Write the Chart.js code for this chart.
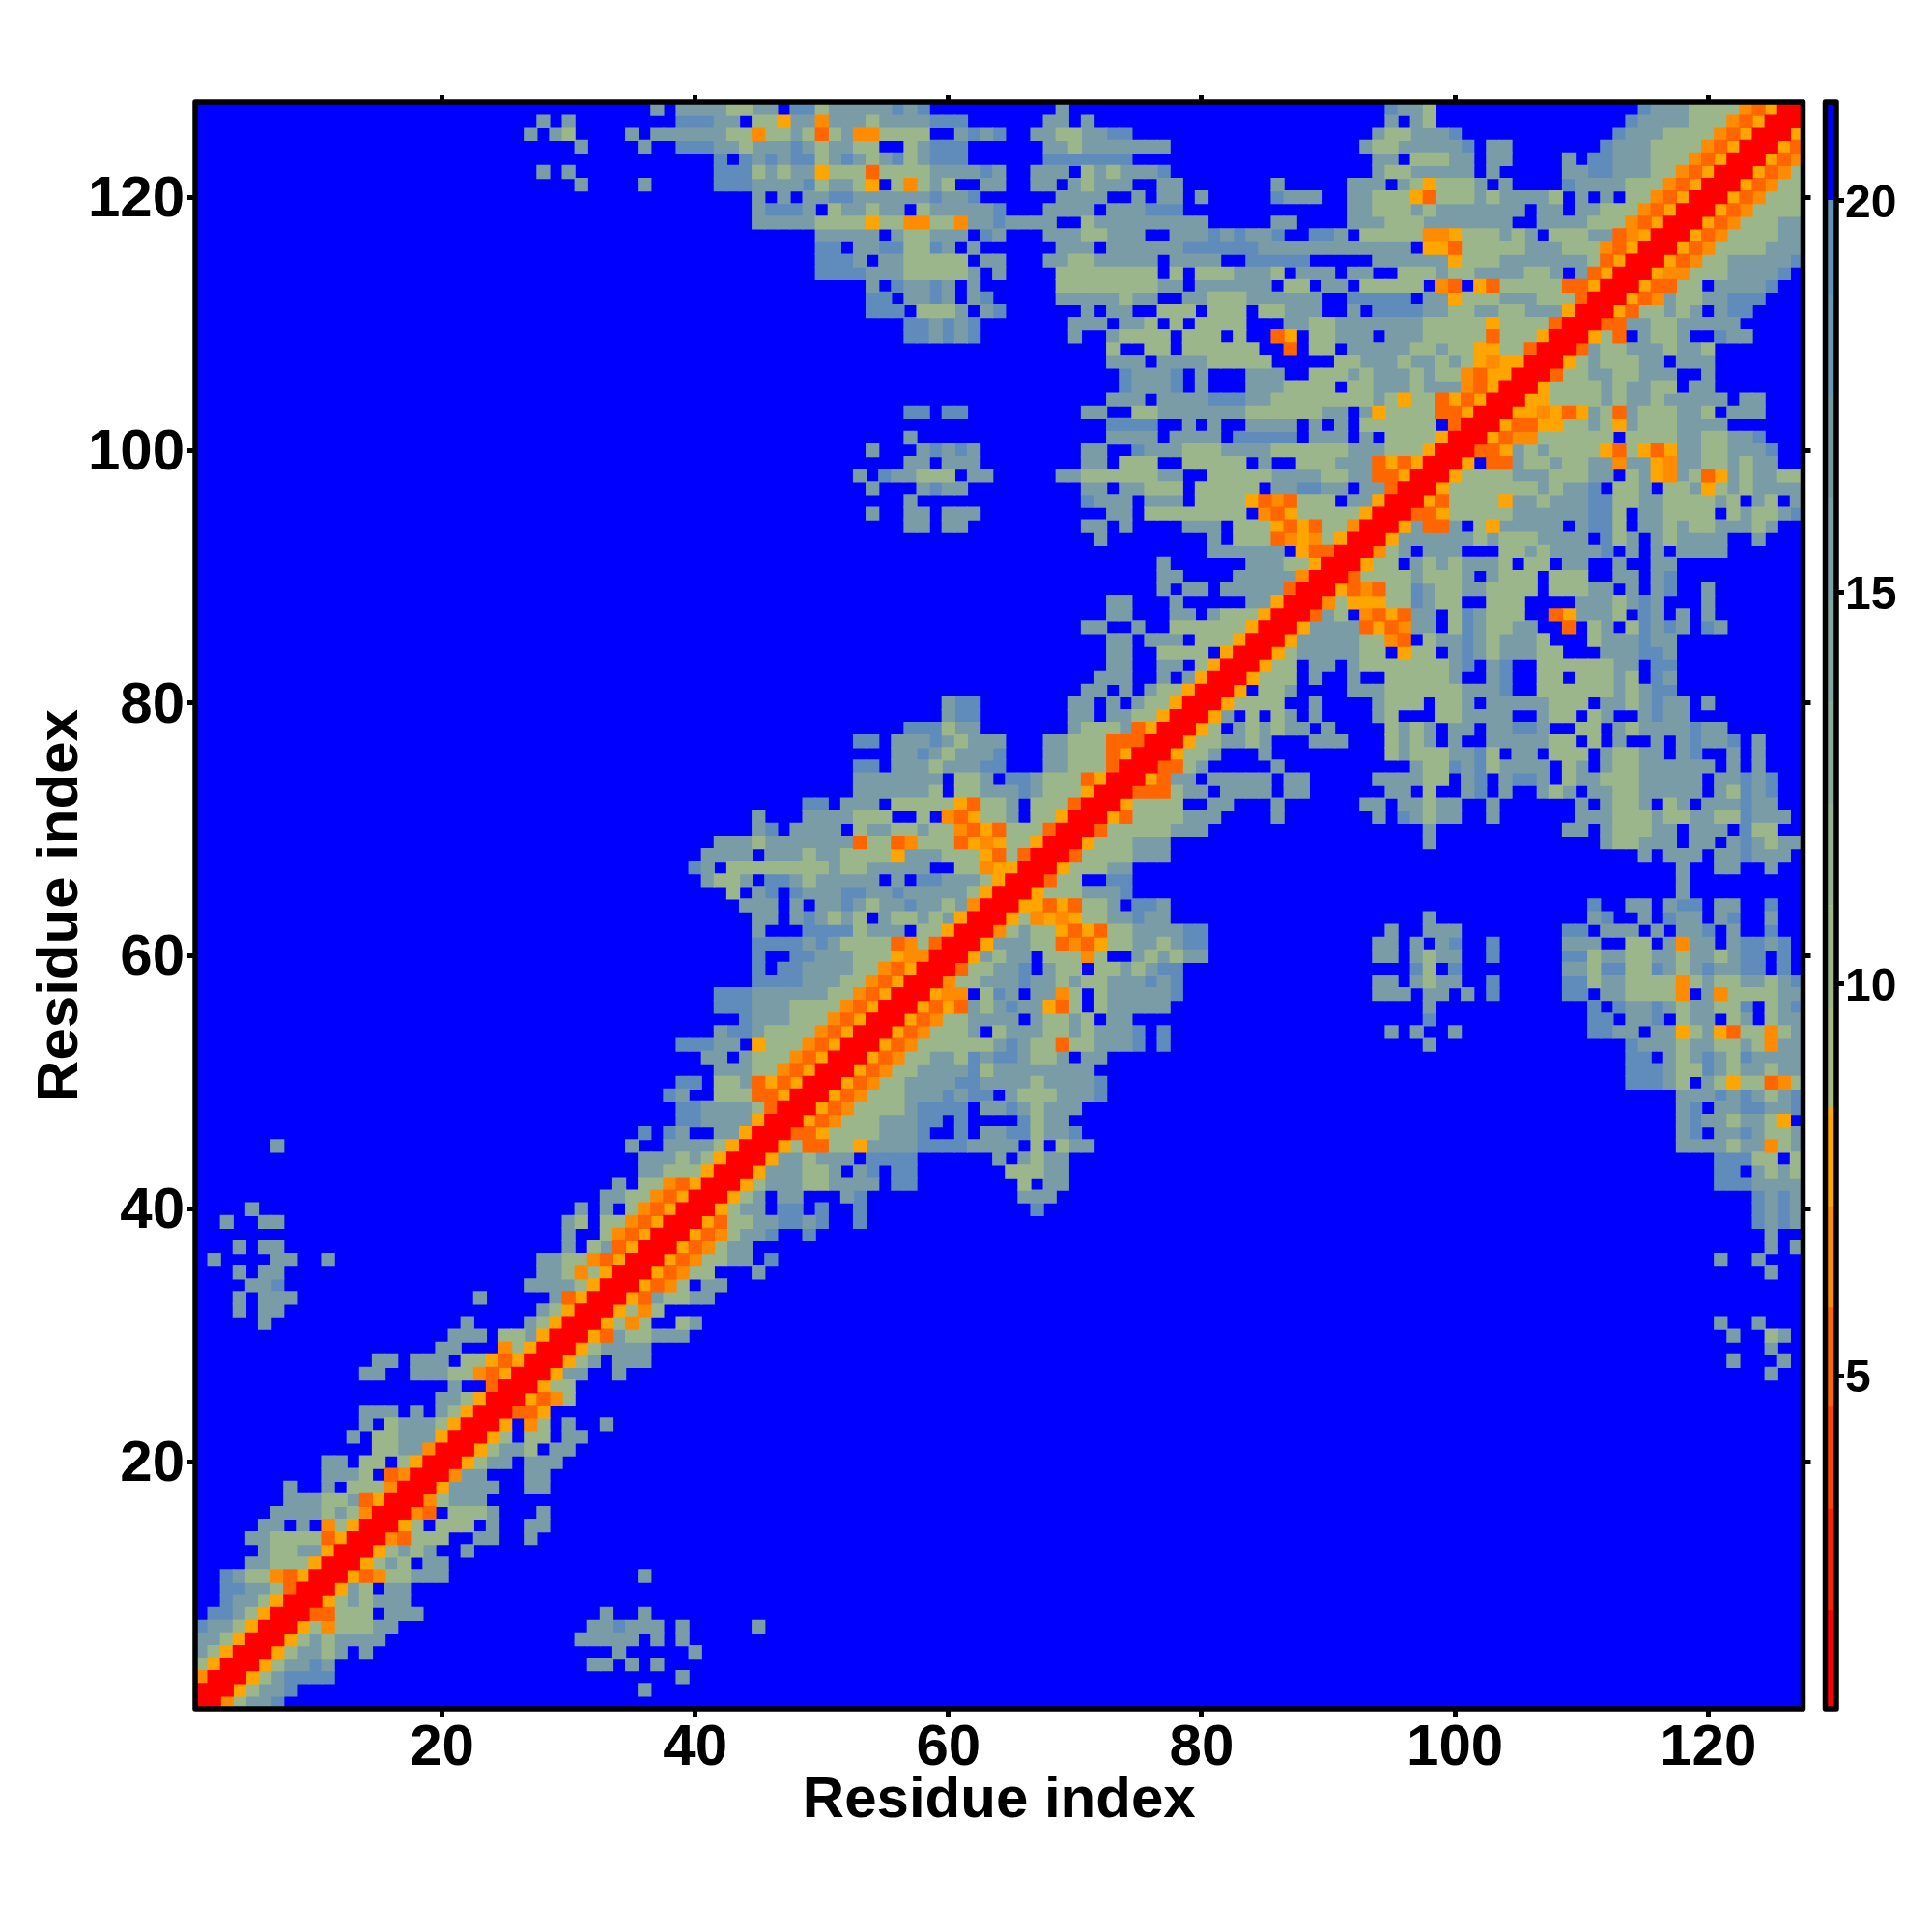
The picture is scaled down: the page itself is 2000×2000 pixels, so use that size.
<!DOCTYPE html>
<html><head><meta charset="utf-8">
<script src="https://cdn.jsdelivr.net/npm/chart.js@4"></script>
<style>html,body{margin:0;padding:0;background:#fff}canvas{position:absolute;left:0;top:0}</style>
</head><body>
<canvas id="map" width="2000" height="2000"></canvas>
<canvas id="bar" width="2000" height="2000"></canvas>
<script>
const axisTicks = [20,40,60,80,100,120];
const colorbarTicks = [5,10,15,20];
const axisTitle = "Residue index";
const residueCount = 127;
const levelLetters = [".","b","s","g","y","O","d","R"];
const levelValues  = [21,18,14,10,7.8,6.5,5.2,1.4];
const levelColors  = ["#0000ff","#5f8cbb","#7a9ca6","#9cb68c","#ffa500","#ff8c00","#ff6600","#ff0000"];
const barEdges  = [0.75,2,3.3,4.6,5.87,7.16,8.43,9.7,11,12.3,13.6,14.9,16.2,17.5,18.8,20,21.25];
const barColors = ["#ff0000","#ff2200","#ff4500","#ff6600","#ff8c00","#ffa500","#a4bc84","#9db78b","#95b192","#8cab99","#85a6a0","#7da0a6","#75999f","#6d95af","#6590b5","#0000ff"];
// one triangle of the symmetric map, row: "y x:cells x:cells"
const mapRows = [
"127 37:s 39:ssssggss.bbgsssssbsb 69:s 95:bssg 115:bsssgggg 123:OdyRR",
"126 28:s 30:s 39:bbbss.ggyssOsssg 55:ssss 59:bbb 68:ss 71:s 95:s.sg 114:bssssggg 122:OdyRR",
"125 27:s 29:sg 35:s 37:ss 39:ssssggO 46:ggsg 50:d 51:gs 53:OO 55:gggg 61:s 62:bsb 67:ssggssbb 94:sggsssb 113:bsssgggg 121:OdyRR",
"124 31:s 36:s 39:bbb 42:ssgsssbsgssgg..gsbbb 68:ssgsssssss 93:sggsssssb 103:ss 112:bsssgggg 120:OdyRR",
"123 42:b.bsbsbbgsbsgsbgsbbb 68:bbbbbbb 94:ss.gggss 103:ss 109:s. 111:bbsssggg 119:OdyRR",
"122 28:s 30:s 42:bbb 45:gsgss 50:y 51:ggg 54:d 55:gggg 59:ssssbs 67:sss 70:. 71:gsgsssb 94:sggsssss 103:s 109:ss 111:bbsssgg 118:OdyRR",
"121 31:s 36:s 42:bbb 45:ssssb 50:g 51:ss 53:g 54:y 55:. 56:g 57:O 58:g 59:sg 61:.. 63:ss 67:ss.sgs 73:ss 75:.. 77:ss 86:s 92:sss 95:. 96:s 97:g 98:y 99:gggs 103:. 104:s 109:bssssgg 116:gOdyRR",
"120 45:s.s.ss 51:bb 53:ssss 57:ss 59:b 60:ss 62:b 69:ssss 73:.. 75:s 76:. 77:ss 79:. 80:s 86:bsss 92:ssggg 97:y 98:d 99:gggsgssssg 109:. 110:s 111:. 112:s 113:. 114:gg 116:OdyRR",
"119 45:sbbbs 50:. 51:gss 54:g 55:ss 57:. 58:g 59:sssssb 68:ssss 72:. 73:sssbbb 92:ssgggsgsssssss 106:. 107:ss 109:. 110:ssggg 115:OdyRR",
"118 45:sssss 50:gggg 54:y 55:gg 57:OO 59:gg 61:O 62:ssbss 67:ss 69:.. 71:g 72:sssssssss 86:ss 92:sssgggsssssss 106:. 107:ss 109:ssggg 114:OdyRR",
"117 50:ssss 54:s 55:. 56:s 57:gg 59:sss 62:. 63:bs 68:sssggsss 76:.. 78:sssbsbssb 87:.. 89:bbs 92:. 93:ggggg 98:OO 100:y 101:gggsgs 107:. 108:gggss 113:dOyRR",
"116 50:bb. 53:ss 55:bb 57:gg 59:b 60:s 61:. 62:s 69:sss 72:. 73:ssssss 79:bbbbbbssssssssssss 97:. 98:yy 100:d 101:gggggsssggg 112:OdyRR",
"115 50:bbb 53:s 54:. 55:ss 57:ggg 60:gg 62:. 63:ss 68:ssggsssss 77:. 78:ssss 82:.. 84:bbbbb 89:..... 94:ssssss 100:y 101:gggsssssssg 112:dyRR",
"114 50:bbbb 54:s 55:ss 57:ggg 60:gg 62:s 63:. 64:s 69:gggggggg 77:. 78:g 79:. 80:gggsssg 87:. 88:sss 91:. 92:ss 94:.. 96:gggsggssssggs 109:. 110:s 111:dyRR",
"113 54:s 55:. 56:b 57:ss 59:b 60:s 61:. 62:s 69:ggggggggss 79:. 80:ssssss 86:. 87:gg 89:. 90:ss 92:. 93:ggggg 98:. 99:O 100:d 101:. 102:y 103:d 104:gggggg 109:dd 111:yRR",
"112 54:bb 56:. 57:ss 59:b 60:s 61:. 62:s 63:b 69:sssssgss 77:.. 79:ssgggssssss 90:.. 92:bbbbb 97:. 98:ss 100:y 101:gggsssggg 110:dRR",
"111 54:bbb 57:. 58:ggg 61:s 62:. 63:sb 70:. 71:s 72:. 73:ss 75:.. 77:ggg 80:. 81:ggg 84:. 85:gg 87:sss 90:.. 92:s 93:. 94:bbbbssggssggsss 109:yRR",
"110 57:bbsbsb 70:sss 73:. 74:ssg 77:. 78:g 79:. 80:gggg 84:... 87:ssggsss 94:ssssggggg 103:y 104:gggg 108:dRR",
"109 57:bbsbsb 70:s 73:sgggg 78:. 79:ggg 82:. 83:g 84:.. 86:dy 88:. 89:ggsss 94:. 95:sssggggg 103:d 104:ggg 107:yRR",
"108 73:g 74:.. 76:gg 78:. 79:gggggg 85:.. 87:d 88:. 89:gg 91:. 92:sssssggsgg 102:yy 104:gg 106:dRR",
"107 73:sss 76:. 77:ssssggggg 86:..... 91:ggsssgssgsg 102:yOyy 106:RR",
"106 74:bsssb 79:. 80:s 81:... 84:sss 87:.. 89:gggsgsssgsgg 101:O 102:d 103:yy 105:RR",
"105 74:bsssb 79:. 80:s 81:... 84:sssgggg 91:. 92:ggsssgsss 101:O 102:d 103:y 104:RR",
"104 73:sss 76:. 77:ssssbbbssggggggggsg 96:y 97:gg 99:d 100:y 101:d 102:y 103:RR",
"103 57:bb 60:bb 71:ss 73:.. 75:ggsssssssggggggss 92:. 93:s 94:y 95:gggg 99:dd 101:y 102:RR",
"102 73:bbbb 77:.. 79:s 80:. 81:s 82:.. 84:ssss 88:. 89:s 90:. 91:s 92:. 93:gggggg 100:d 101:RR",
"101 57:s 73:ssss 77:. 78:ssss 82:. 83:bbbbb 88:. 89:sss 92:. 93:s 94:. 95:gggg 99:y 100:RR",
"100 54:s 58:sb 60:sbs 71:ss 73:.. 75:bsssgggssssggggggsssggg 98:yRR",
"99 57:ss 59:. 60:sss 71:ss 73:. 74:ggg 77:.. 79:ggggg 84:. 85:s 86:.. 88:gggsss 94:dydy 98:RR",
"98 53:s 55:bs 57:sgg 60:g 61:. 62:ss 69:ssggggggss 79:.. 81:gggggssssggss 94:dd 96:y 97:RR",
"97 54:s 58:sbss 71:ss 73:. 74:ssggg 79:. 80:ggggg 85:. 86:ssbbss 92:. 93:ss 95:d 96:RR",
"96 57:s 71:bsss 75:. 76:sss 79:. 80:gggg 84:y 85:d 86:O 87:d 88:ggg 91:. 92:ss 94:y 95:RR",
"95 54:s 57:ss 60:sss 73:ss 75:. 76:gggggggg 84:. 85:O 86:d 87:y 88:ggggg 93:y 94:RR",
"94 57:ss 60:ss 71:ss 73:. 74:s 79:sss 82:. 83:ggg 86:y 87:d 88:y 89:d 90:gg 92:O 93:RR",
"93 72:s 81:s 82:. 83:ggg 86:d 87:O 88:y 89:O 90:g 91:y 92:RR",
"92 81:ssssss 87:. 88:y 89:dd 91:RR",
"91 77:s 84:sss 87:gg 89:y 90:RR",
"90 77:ss 83:ssss 87:s 88:O 89:RR",
"89 77:s.ss 82:sssss 87:d 88:RR",
"88 73:ss 78:s 84:ss 86:y 87:RR",
"87 73:ss 78:ss 81:sggg 85:y 86:RR",
"86 71:ss 75:s 78:gggggg 84:y 85:RR",
"85 73:ss 76:sss 80:ggg 83:y 84:RR",
"84 73:ss 77:gggg 82:y 83:RR",
"83 73:ss 77:ss 80:g 81:y 82:RR",
"82 72:sss 77:s 79:s 80:y 81:RR",
"81 71:ss 74:s 76:sgg 79:y 80:RR",
"80 60:sbb 70:ss 73:s 75:sgg 78:y 79:RR",
"79 60:sbb 70:ss 73:ss 75:gg 77:y 78:RR",
"78 57:bbbgss 70:sgggs 75:d 76:y 77:RR",
"77 53:bb 56:sssbsgsss 68:ssggg 73:ddd 76:RR",
"76 56:ssbsgsssb 68:ssggg 73:d 74:y 75:RR",
"75 53:bb 56:sssgsss 63:bb 68:ssggg 73:d 74:RR",
"74 53:sssssss 61:gg 63:s 65:bb 67:sggg 71:d 72:y 73:RR",
"73 53:ssssss 59:g 61:gg 63:sss 66:b 67:sggg 71:y 72:RR",
"72 49:bb 52:sss 56:ggggg 61:y 62:d 63:gg 65:s 67:ggg 70:d 71:RR",
"71 45:s 49:ssssggg 58:g 60:Ody 63:ggs 67:gg 69:y 70:RR",
"70 45:sb 48:ssss 53:g 54:ss 56:gg 58:s 59:gg 61:O 62:d 63:y 64:d 65:ggg 68:d 69:RR",
"69 42:sss 45:g 46:sssssss 53:d 54:gg 56:d 57:O 58:ggg 61:d 62:y 63:O 64:y 65:gg 67:y 68:RR",
"68 41:ssss 46:sssgssg 53:gg 55:g 56:y 57:sssggg 63:y 64:d 65:g 66:d 67:RR",
"67 40:b 41:s 43:ggggggggsggsssss 61:gg 63:Oyy 66:RR",
"66 41:s 42:gg 44:s 46:bbs 49:g 50:sssss 56:s 58:bbsssg 64:y 65:RR",
"65 43:g 45:s 46:b 48:bsssbbssbsssssg 63:y 64:RR",
"64 44:s 45:ss 48:s 50:ssbsgssbssgs 62:O 63:RR",
"63 45:ss 48:sbsgsg 55:s 56:gg 58:sgs 61:y 62:RR",
"62 45:s 49:bbbb 53:gsss 58:gg 60:y 61:RR",
"61 45:bbbbsbsgggg 56:dO 58:g 59:d 60:RR",
"60 45:b 48:bbsssggg 56:yOO 59:RR",
"59 45:b 47:bbssssgg 55:Ody 58:RR",
"58 45:bbbbsssgg 54:Ody 57:RR",
"57 42:bbb 45:ssssssgg 53:Ody 56:RR",
"56 42:bbb 45:sssgggg 52:Ody 55:RR",
"55 44:b 45:sssggg 51:Ody 54:RR",
"54 42:sbb 45:sgggg 50:Ody 53:RR",
"53 39:bbb 42:ss 45:y 46:ggg 49:Ody 52:RR",
"52 41:ss 44:s 45:ggg 48:Ody 51:RR",
"51 42:sss 45:gg 47:Ody 50:RR",
"50 39:bb 42:ggs 45:dydy 49:RR",
"49 38:bs 42:ggg 45:ddy 48:RR",
"48 39:bbssssg 46:d 47:RR",
"47 39:bbssss 45:y 46:RR",
"46 36:b 38:bs 42:ss 44:y 45:RR",
"45 7:s 35:s 38:ssssg 43:y 44:RR",
"44 36:sssgsg 42:y 43:RR",
"43 36:ssggg 41:y 42:RR",
"42 34:s 36:gg 38:Ody 41:RR",
"41 33:ss 35:gg 37:Ody 40:RR",
"40 5:s 31:s 33:s 35:g 36:Ody 39:RR",
"39 3:s 6:ss 30:sg 33:gg 35:Ody 38:RR",
"38 30:s 33:g 34:Ody 37:RR",
"37 4:s 6:ss 30:s 32:gs 34:dy 36:RR",
"36 2:s 7:ss 11:s 28:ssgg 32:Ody 35:RR",
"35 4:s 6:ss 28:ssg 31:Ogy 34:RR",
"34 5:ssb 27:ssssg 32:y 33:RR",
"33 4:s 6:sss 23:s 29:s 30:dy 32:RR",
"32 4:s 6:ss 28:sg 30:y 31:RR",
"31 6:s 22:s 27:sg 29:y 30:RR",
"30 21:sss 25:ggs 28:y 29:RR",
"29 20:ss 25:Og 27:y 28:RR",
"28 15:ss 18:sss 22:gg 24:ydy 27:RR",
"27 14:ss 18:sss 21:gg 23:Ody 26:RR",
"26 21:s 24:d 25:RR",
"25 20:ssg 23:y 24:RR",
"24 14:sss 18:s 20:sg 22:y 23:RR",
"23 14:s 16:gsss 20:g 21:y 22:RR",
"22 13:s 15:ggsss 20:y 21:RR",
"21 15:ggss 19:O 20:RR",
"20 11:ss 14:gg 17:g 18:y 19:RR",
"19 11:sss 14:g 16:dO 18:RR",
"18 8:s 11:s 13:ggg 16:O 17:RR",
"17 8:sss 11:gg 13:s 14:dy 16:RR",
"16 7:ssss 11:gs 13:g 14:O 15:RR",
"15 6:ss 9:s 11:Ogy 14:RR",
"14 5:ssgggg 11:dy 13:RR",
"13 6:sggss 11:y 12:RR",
"12 5:ssggg 10:y 11:RR",
"11 3:bsgg 7:Ody 10:RR",
"10 3:bbssg 8:d 9:RR",
"9 3:bssg 7:y 8:RR",
"8 2:bbsg 6:y 7:RR",
"7 1:bssg 5:y 6:RR",
"6 1:ssg 4:y 5:RR",
"5 1:sg 3:y 4:RR",
"4 1:g 2:y 3:RR",
"3 1:O 2:RR",
"2 1:RR",
"1 1:R"
];

const FONT = "'Liberation Sans', Arial, sans-serif";
const grid = {};
mapRows.forEach(line => {
  const parts = line.split(" ");
  const y = +parts[0];
  parts.slice(1).forEach(p => {
    const [start, cells] = p.split(":");
    [...cells].forEach((c, i) => {
      const x = +start + i;
      if (x <= y) { grid[x + "," + y] = c; grid[y + "," + x] = c; }
    });
  });
});
const pointsByLevel = levelLetters.map(() => []);
for (let y = 1; y <= residueCount; y++) for (let x = 1; x <= residueCount; x++) {
  const letter = grid[x + "," + y] || ".";
  const idx = levelLetters.indexOf(letter);
  pointsByLevel[idx].push({x, y, v: levelValues[idx]});
}
const frame = {
  id: "frame",
  beforeDatasetsDraw(chart, args, opts) {
    if (!opts.fill) return;
    const a = chart.chartArea, c = chart.ctx;
    c.save(); c.fillStyle = opts.fill;
    c.fillRect(a.left, a.top, a.right - a.left, a.bottom - a.top);
    c.restore();
  },
  afterDraw(chart) {
    const a = chart.chartArea, c = chart.ctx;
    c.save(); c.strokeStyle = "#000"; c.lineWidth = 5.5; c.lineJoin = "round";
    c.strokeRect(a.left, a.top, a.right - a.left, a.bottom - a.top);
    c.restore();
  }
};
const setTicks = list => scale => { scale.ticks = list.map(value => ({value})); };
const axisBase = list => ({
  type: "linear", min: 0.5, max: residueCount + 0.5,
  afterBuildTicks: setTicks(list),
  border: {display: false},
  grid: {drawOnChartArea: false, drawTicks: true, tickLength: 8, tickWidth: 5, tickColor: "#000", color: "#000"},
});
const labelFont = {family: FONT, size: 60, weight: "bold"};
const titleCfg = (padding) => ({display: true, text: axisTitle, color: "#000", font: {family: FONT, size: 60, weight: "bold"}, padding});

new Chart(document.getElementById("map"), {
  type: "scatter",
  data: {datasets: levelLetters.map((l, i) => ({
    label: l, data: pointsByLevel[i], backgroundColor: levelColors[i], borderWidth: 0,
    pointStyle: "rect", pointRadius: 14.3 / Math.SQRT2, pointHoverRadius: 0, order: levelLetters.length - i
  }))},
  options: {
    responsive: false, animation: false, events: [],
    layout: {padding: {top: 97, right: 124.5, bottom: 0, left: 0}},
    plugins: {legend: {display: false}, tooltip: {enabled: false}, frame: {fill: "#0000ff"}},
    scales: {
      x: {...axisBase(axisTicks), position: "bottom", afterFit: s => { s.height = 231; },
          ticks: {display: true, font: labelFont, color: "#000", padding: -3, maxRotation: 0, autoSkip: false},
          title: titleCfg({top: 0, bottom: 100})},
      y: {...axisBase(axisTicks), position: "left", afterFit: s => { s.width = 202; },
          ticks: {display: true, font: labelFont, color: "#000", padding: 3, labelOffset: 3, autoSkip: false},
          title: titleCfg({top: 27, bottom: 0})},
      xTop: {...axisBase(axisTicks), position: "top", axis: "x", afterFit: s => { s.height = 9; }, ticks: {display: false}},
      yRight: {...axisBase(axisTicks), position: "right", axis: "y", afterFit: s => { s.width = 9; }, ticks: {display: false}}
    }
  },
  plugins: [frame]
});

new Chart(document.getElementById("bar"), {
  type: "bar",
  data: {labels: [""], datasets: barColors.map((color, i) => ({
    data: [[barEdges[i], barEdges[i + 1]]], backgroundColor: color, borderWidth: 0,
    barPercentage: 1, categoryPercentage: 1
  }))},
  options: {
    responsive: false, animation: false, events: [],
    layout: {padding: {top: 106, right: 0, bottom: 0, left: 0}},
    plugins: {legend: {display: false}, tooltip: {enabled: false}},
    scales: {
      x: {stacked: true, display: true, position: "bottom", afterFit: s => { s.height = 231; },
          grid: {display: false}, border: {display: false}, ticks: {display: false}},
      y: {type: "linear", position: "right", min: 0.75, max: 21.25, stacked: false,
          afterBuildTicks: setTicks(colorbarTicks), afterFit: s => { s.width = 99; },
          border: {display: false},
          grid: {drawOnChartArea: false, tickLength: 8, tickWidth: 5, tickColor: "#000"},
          ticks: {font: {family: FONT, size: 48, weight: "bold"}, color: "#000", padding: 1, labelOffset: 4, autoSkip: false}},
      yLeft: {display: true, position: "left", axis: "y", afterFit: s => { s.width = 1889.5; },
          grid: {display: false}, border: {display: false}, ticks: {display: false}}
    }
  },
  plugins: [frame]
});
</script>
</body></html>
